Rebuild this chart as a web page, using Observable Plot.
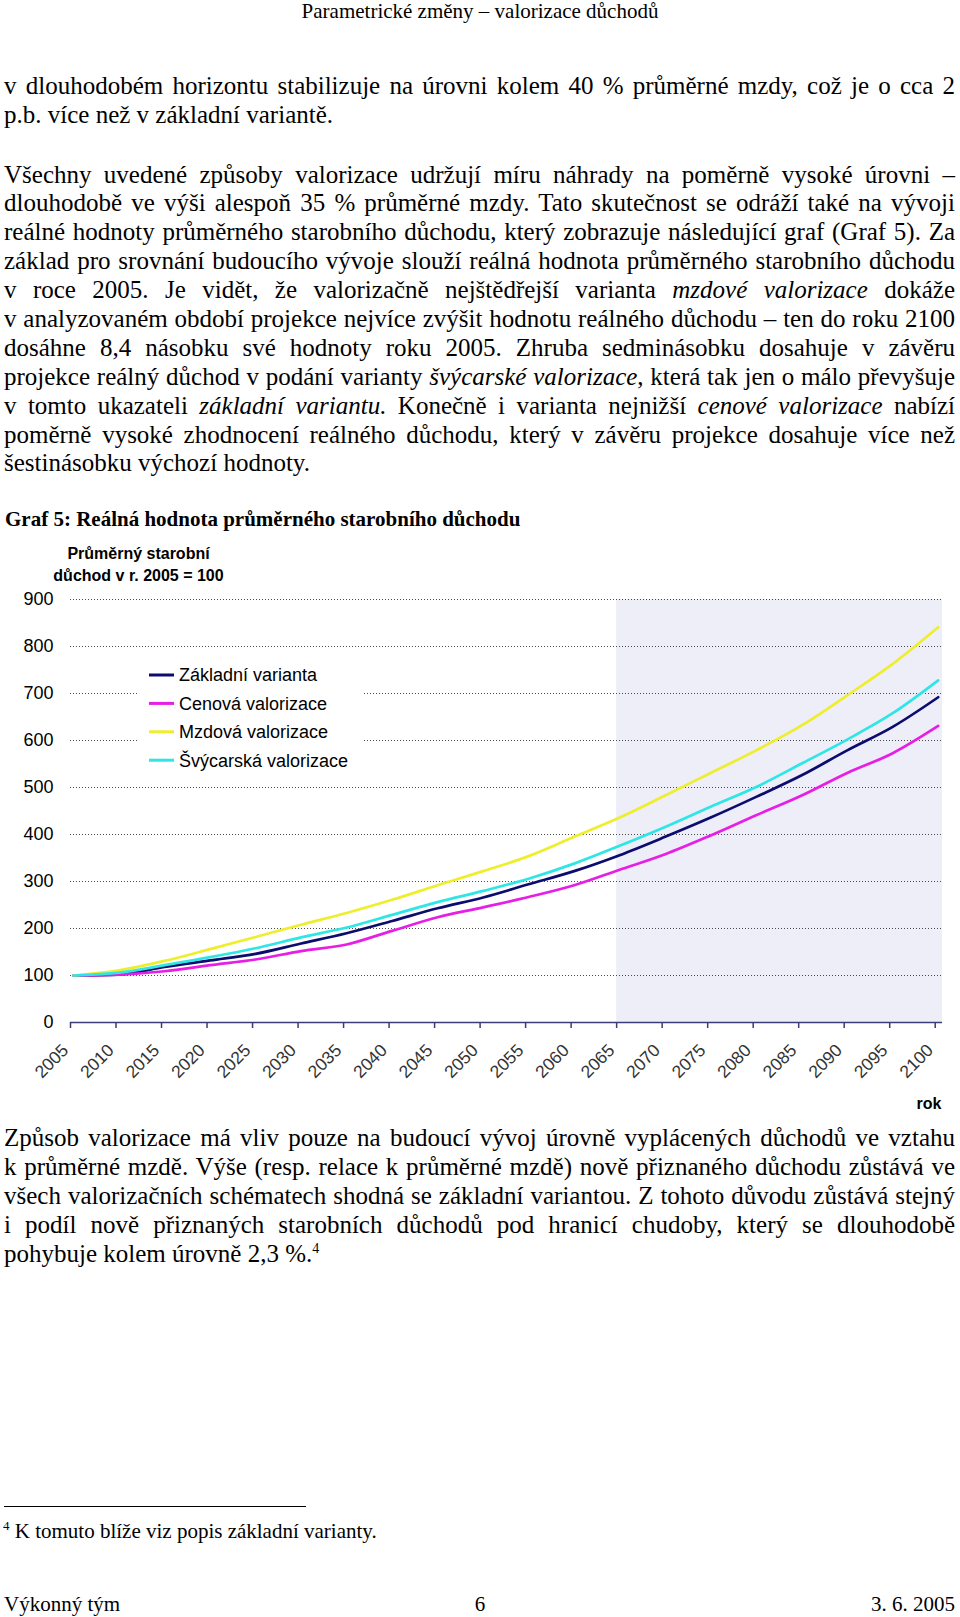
<!DOCTYPE html>
<html>
<head>
<meta charset="utf-8">
<script src="https://cdn.jsdelivr.net/npm/d3@7"></script>
<script src="https://cdn.jsdelivr.net/npm/@observablehq/plot@0.6"></script>
<style>
  html, body { margin: 0; padding: 0; background: #fff; }
  #page { position: relative; width: 960px; height: 1617px; overflow: hidden;
          font-family: "Liberation Serif", "Times New Roman", serif; color: #000; }
  .para { position: absolute; left: 4px; width: 951px; font-size: 25px; }
  .ln { height: 28.9px; line-height: 28.9px; white-space: nowrap; }
  .abs { position: absolute; white-space: nowrap; }
  sup { font-size: 14px; line-height: 0; vertical-align: 9px; }
  #chart { position: absolute; left: 0; top: 530px; }
</style>
</head>
<body>
<div id="page">
  <div class="abs" style="left:0;width:960px;text-align:center;top:-1px;font-size:21px;line-height:24px;">Parametrické změny – valorizace důchodů</div>
  <div id="paras"></div>
  <div class="abs" style="left:5px;top:507px;font-size:21px;line-height:24px;font-weight:bold;">Graf 5: Reálná hodnota průměrného starobního důchodu</div>
  <div id="chart"></div>
  <div class="abs" style="left:4px;top:1506px;width:302px;height:0;border-top:1.4px solid #000;"></div>
  <div class="abs" style="left:3px;top:1519px;font-size:21px;line-height:24px;"><sup style="font-size:13px;vertical-align:8px;">4</sup> K tomuto blíže viz popis základní varianty.</div>
  <div class="abs" style="left:4px;top:1592px;font-size:21px;line-height:24px;">Výkonný tým</div>
  <div class="abs" style="left:0;width:960px;text-align:center;top:1592px;font-size:21px;line-height:24px;">6</div>
  <div class="abs" style="right:5px;top:1592px;font-size:21px;line-height:24px;">3. 6. 2005</div>
</div>
<script>
// ---------- chart data ----------
const years = [2005, 2010, 2015, 2020, 2025, 2030, 2035, 2040, 2045, 2050,
               2055, 2060, 2065, 2070, 2075, 2080, 2085, 2090, 2095, 2100];
const seriesNames = ["Základní varianta", "Cenová valorizace", "Mzdová valorizace", "Švýcarská valorizace"];
const zakladni  = [100, 102, 118, 132, 146, 168, 190, 216, 243, 266, 294, 322, 356, 395, 436, 480, 526, 579, 629, 692];
const cenova    = [100, 102, 109, 122, 134, 152, 166, 195, 224, 245, 267, 292, 325, 358, 398, 441, 483, 531, 573, 631];
const mzdova    = [100, 111, 131, 156, 182, 208, 233, 261, 292, 322, 354, 395, 436, 483, 531, 579, 632, 696, 763, 841];
const svycarska = [100, 106, 122, 139, 158, 181, 202, 229, 256, 280, 306, 338, 376, 416, 459, 501, 551, 602, 658, 728];
const seriesColors = ["#0c0c6e", "#e61ee6", "#eeee2c", "#2ee6e6"];
const xTicks = [2005, 2010, 2015, 2020, 2025, 2030, 2035, 2040, 2045, 2050,
                2055, 2060, 2065, 2070, 2075, 2080, 2085, 2090, 2095, 2100];
const yTicks = [0, 100, 200, 300, 400, 500, 600, 700, 800, 900];
const gridValues = [100, 200, 300, 400, 500, 600, 700, 800, 900];
const xDomain = [2005, 2100.8];
const projectionSpan = [{start: 2065, end: 2100.8}];
const yTitle = "Průměrný starobní\ndůchod v r. 2005 = 100";
const xTitle = "rok";

// ---------- text ----------
const paragraphs = [
  {top: 71.7, lines: [
    "v dlouhodobém horizontu stabilizuje na úrovni kolem 40 % průměrné mzdy, což je o cca 2",
    "p.b. více než v základní variantě."]},
  {top: 160.5, lines: [
    "Všechny uvedené způsoby valorizace udržují míru náhrady na poměrně vysoké úrovni –",
    "dlouhodobě ve výši alespoň 35 % průměrné mzdy. Tato skutečnost se odráží také na vývoji",
    "reálné hodnoty průměrného starobního důchodu, který zobrazuje následující graf (Graf 5). Za",
    "základ pro srovnání budoucího vývoje slouží reálná hodnota průměrného starobního důchodu",
    "v roce 2005. Je vidět, že valorizačně nejštědřejší varianta <i>mzdové valorizace</i> dokáže",
    "v analyzovaném období projekce nejvíce zvýšit hodnotu reálného důchodu – ten do roku 2100",
    "dosáhne 8,4 násobku své hodnoty roku 2005. Zhruba sedminásobku dosahuje v závěru",
    "projekce reálný důchod v podání varianty <i>švýcarské valorizace</i>, která tak jen o málo převyšuje",
    "v tomto ukazateli <i>základní variantu.</i> Konečně i varianta nejnižší <i>cenové valorizace</i> nabízí",
    "poměrně vysoké zhodnocení reálného důchodu, který v závěru projekce dosahuje více než",
    "šestinásobku výchozí hodnoty."]},
  {top: 1124, lines: [
    "Způsob valorizace má vliv pouze na budoucí vývoj úrovně vyplácených důchodů ve vztahu",
    "k průměrné mzdě. Výše (resp. relace k průměrné mzdě) nově přiznaného důchodu zůstává ve",
    "všech valorizačních schématech shodná se základní variantou. Z tohoto důvodu zůstává stejný",
    "i podíl nově přiznaných starobních důchodů pod hranicí chudoby, který se dlouhodobě",
    "pohybuje kolem úrovně 2,3 %.<sup>4</sup>"]}
];
const parasEl = document.getElementById("paras");
paragraphs.forEach(p => {
  const d = document.createElement("div");
  d.className = "para";
  d.style.top = p.top + "px";
  p.lines.forEach((html, i) => {
    const ln = document.createElement("div");
    ln.className = "ln" + (i < p.lines.length - 1 ? " j" : "");
    ln.innerHTML = "<span>" + html + "</span>";
    d.appendChild(ln);
  });
  parasEl.appendChild(d);
});
document.querySelectorAll(".ln.j").forEach(el => {
  const span = el.firstElementChild;
  const w = span.getBoundingClientRect().width;
  const n = (span.textContent.match(/ /g) || []).length;
  if (n) el.style.wordSpacing = ((951 - w) / n) + "px";
});

// ---------- chart ----------
const seriesValues = [zakladni, cenova, mzdova, svycarska];
const data = [];
seriesNames.forEach((name, i) => years.forEach((yr, j) => data.push({year: yr, value: seriesValues[i][j], series: name})));

const axisColor = "#3c3c78";
function legendMark(index, scales, values, dims) {
  const g = d3.create("svg:g");
  const x0 = dims.marginLeft + 67, y0 = dims.marginTop + 51;
  g.append("rect").attr("x", x0).attr("y", y0).attr("width", 225).attr("height", 133).attr("fill", "#fff");
  seriesNames.forEach((name, i) => {
    const cy = y0 + 25 + i * 28.4;
    g.append("line").attr("x1", x0 + 12).attr("x2", x0 + 37).attr("y1", cy).attr("y2", cy)
      .attr("stroke", seriesColors[i]).attr("stroke-width", 3);
    g.append("text").attr("x", x0 + 42).attr("y", cy).attr("dy", "0.35em")
      .attr("text-anchor", "start").attr("font-size", 18).attr("fill", "#000").text(name);
  });
  return g.node();
}

const chart = Plot.plot({
  width: 960,
  height: 588,
  marginLeft: 70,
  marginRight: 18,
  marginTop: 69,
  marginBottom: 96,
  style: {fontFamily: '"Liberation Sans", Arial, sans-serif', fontSize: "18px", color: "#000", background: "transparent", overflow: "visible"},
  x: {domain: xDomain, axis: null},
  y: {domain: [0, 900], axis: null},
  color: {domain: seriesNames, range: seriesColors},
  marks: [
    Plot.rect(projectionSpan, {x1: "start", x2: "end", y1: 0, y2: 900, fill: "#eeeef9"}),
    Plot.ruleY(gridValues, {stroke: "#4a4a4a", strokeDasharray: "1,2", strokeWidth: 1}),
    legendMark,
    Plot.line(data, {x: "year", y: "value", z: "series", stroke: "series", strokeWidth: 2.7, curve: "monotone-x", dx: 3}),
    Plot.ruleY([0], {stroke: axisColor, strokeWidth: 1.5}),
    Plot.axisX(xTicks, {tickSize: 6, stroke: axisColor, strokeWidth: 1.5, fill: null, label: null}),
    Plot.axisX(xTicks, {tickSize: 0, tickPadding: 25, tickRotate: -45, dx: -5, fontSize: 17.5, fill: "#333", tickFormat: d => String(d), label: null}),
    Plot.axisY(yTicks, {tickSize: 0, tickPadding: 17, fontSize: 18, fill: "#000", tickFormat: d => String(d), label: null}),
    Plot.text([yTitle], {text: d => d, frameAnchor: "top-left", dx: 68, dy: -37, textAnchor: "middle", lineAnchor: "middle", lineHeight: 1.39, fontSize: 16, fontWeight: "bold", fill: "#000"}),
    Plot.text([xTitle], {text: d => d, frameAnchor: "bottom-right", dx: -1, dy: 81, textAnchor: "end", lineAnchor: "middle", fontSize: 16, fontWeight: "bold", fill: "#000"})
  ]
});
document.getElementById("chart").appendChild(chart);
</script>
</body>
</html>
